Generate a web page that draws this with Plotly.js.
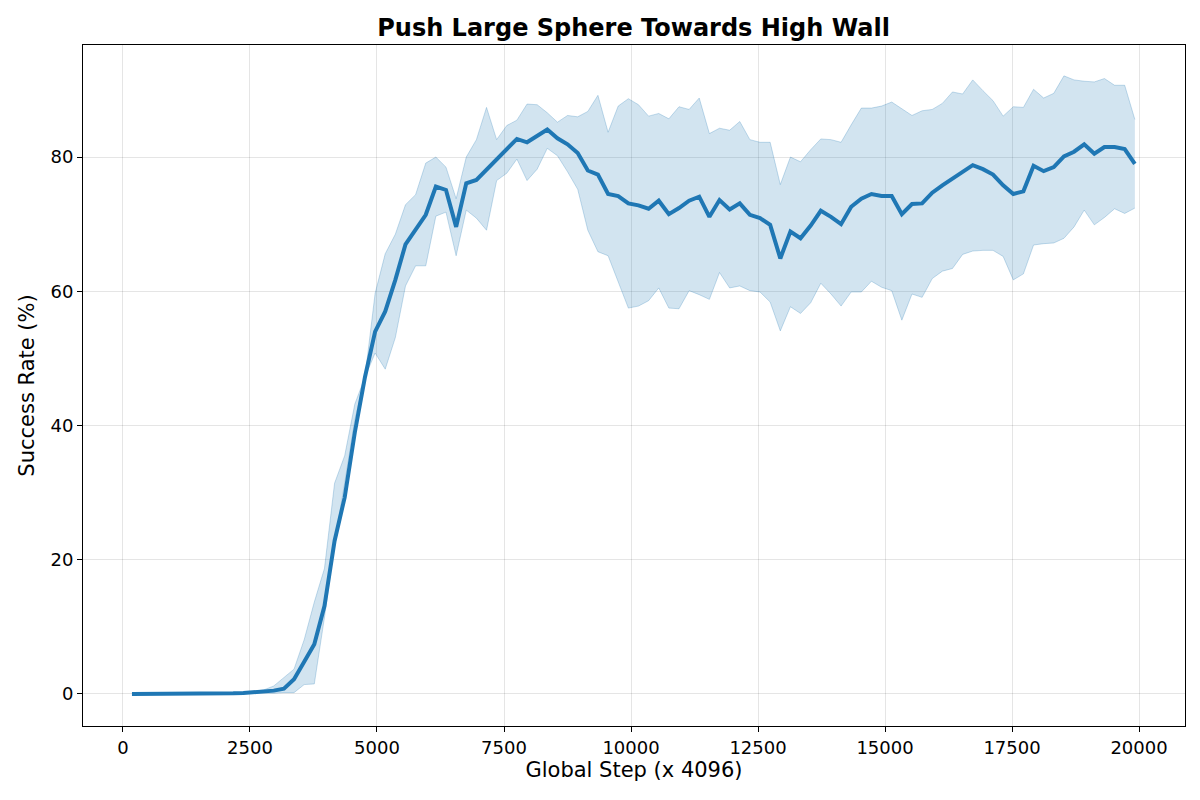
<!DOCTYPE html>
<html>
<head>
<meta charset="utf-8">
<script src="https://cdn.plot.ly/plotly-3.0.1.min.js"></script>
<style>body{margin:0;background:#fff}#chart{width:1200px;height:800px}</style>
</head>
<body>
<div id="chart"></div>
<script>
// global step values (x 4096)
const steps = [177,376,576,775,975,1174,1373,1573,1772,1972,2171,2370,2570,2769,2969,3168,3367,3567,3766,3966,
  4165,4364,4564,4763,4963,5162,5361,5561,5760,5960,6159,6358,6558,6757,6957,7156,7355,7555,7754,7954,
  8153,8352,8552,8751,8951,9150,9349,9549,9748,9948,10147,10346,10546,10745,10945,11144,11343,11543,11742,11942,
  12141,12340,12540,12739,12939,13138,13337,13537,13736,13936,14135,14334,14534,14733,14933,15132,15331,15531,15730,15930,
  16129,16328,16528,16727,16927,17126,17325,17525,17724,17924,18123,18322,18522,18721,18921,19120,19319,19519,19718,19918];

const meanRate = [0,0,0,0,0,0,0.05,0.05,0.05,0.1,0.1,0.15,0.25,0.3,0.5,0.8,2.2,4.8,7.4,13.1,
  22.8,29.3,39.0,47.2,54.0,57.0,61.7,67.0,69.1,71.4,75.6,75.1,69.6,76.1,76.6,78.1,79.6,81.1,82.7,82.2,
  83.2,84.1,82.8,81.9,80.6,78.0,77.4,74.5,74.2,73.1,72.8,72.3,73.5,71.5,72.4,73.5,74.1,71.1,73.6,72.2,
  73.1,71.4,70.9,69.9,64.9,68.9,67.9,69.8,72.0,71.1,70.0,72.6,73.8,74.5,74.2,74.2,71.5,73.0,73.1,74.7,
  75.8,76.8,77.7,78.8,78.2,77.4,75.8,74.5,74.9,78.7,77.9,78.5,80.1,80.8,81.9,80.5,81.5,81.5,81.2,79.0];

const upperRate = [0,0,0,0,0,0,0.05,0.05,0.05,0.1,0.1,0.2,0.35,0.6,1.2,2.5,3.7,8.1,13.7,18.7,
  31.4,35.5,43.2,47.2,59.7,65.6,68.5,72.9,74.4,79.1,80.0,78.5,73.8,80.0,82.6,87.4,82.6,84.7,85.5,87.9,
  87.8,86.6,85.2,86.2,86.0,86.8,89.2,83.7,87.6,88.7,87.8,86.1,86.5,85.7,87.5,87.1,88.8,83.5,84.3,84.0,
  85.3,82.6,82.2,82.2,75.9,80.0,79.3,81.1,82.7,82.6,82.2,84.8,87.3,87.3,87.6,88.2,87.2,86.2,86.9,87.1,
  88.0,89.7,89.4,91.5,89.9,88.4,86.1,87.5,87.4,90.1,88.8,89.5,92.1,91.5,91.3,91.2,91.7,90.7,90.7,85.6];

const lowerRate = [0,0,0,0,0,0,0.05,0.05,0.05,0.1,0.1,0.1,0.15,0.1,0.1,0.2,0.2,1.4,1.5,11.4,
  22.5,31.4,40.8,47.2,50.8,48.4,53.1,60.8,63.8,63.8,71.2,71.8,65.3,72.1,70.9,69.1,76.5,77.6,79.7,76.5,
  78.2,81.3,80.2,77.8,75.2,69.1,65.9,65.3,61.4,57.5,57.8,58.6,60.5,57.5,57.4,60.1,59.5,58.8,62.8,60.5,
  60.8,60.1,59.9,58.4,54.1,57.7,56.7,58.3,61.2,59.6,57.8,59.9,59.9,61.5,60.6,60.1,55.7,59.6,59.1,61.9,
  63.0,63.4,65.5,66.0,66.1,66.1,65.2,61.7,62.6,66.9,67.1,67.2,67.9,69.6,72.1,69.9,71.0,72.3,71.6,72.4];

const xTicks = [0,2500,5000,7500,10000,12500,15000,17500,20000];
const xTickText = ['0','2500','5000','7500','10000','12500','15000','17500','20000'];
const yTicks = [0,20,40,60,80];

const font = "DejaVu Sans, sans-serif";

const traces = [
  {x: steps, y: lowerRate, mode: 'lines', line: {color: 'rgba(31,119,180,0.25)', width: 1}, hoverinfo: 'skip', showlegend: false},
  {x: steps, y: upperRate, mode: 'lines', fill: 'tonexty', fillcolor: 'rgba(31,119,180,0.2)',
   line: {color: 'rgba(31,119,180,0.25)', width: 1}, hoverinfo: 'skip', showlegend: false},
  {x: steps, y: meanRate, mode: 'lines', line: {color: '#1f77b4', width: 4}, showlegend: false}
];

const axisCommon = {
  showline: true, mirror: true, linecolor: '#000', linewidth: 1,
  ticks: 'outside', ticklen: 5, tickcolor: '#000',
  gridcolor: 'rgba(0,0,0,0.1)', zeroline: false,
  tickfont: {family: font, size: 18, color: '#000'}
};

const layout = {
  width: 1200, height: 800,
  paper_bgcolor: '#fff', plot_bgcolor: '#fff',
  margin: {l: 83, r: 15, t: 45, b: 74},
  title: {text: '<b>Push Large Sphere Towards High Wall</b>', x: 0.528, xanchor: 'center',
    yref: 'container', y: 0.965, yanchor: 'middle',
    font: {family: font, size: 24, color: '#000'}},
  xaxis: Object.assign({}, axisCommon, {range: [-787, 20905], tickvals: xTicks, ticktext: xTickText,
    title: {text: 'Global Step (x 4096)', font: {family: font, size: 21, color: '#000'}, standoff: 4}}),
  yaxis: Object.assign({}, axisCommon, {range: [-4.77, 96.7], tickvals: yTicks,
    title: {text: 'Success Rate (%)', font: {family: font, size: 21, color: '#000'}, standoff: 10}})
};

Plotly.newPlot('chart', traces, layout, {displayModeBar: false, staticPlot: true});
</script>
</body>
</html>
